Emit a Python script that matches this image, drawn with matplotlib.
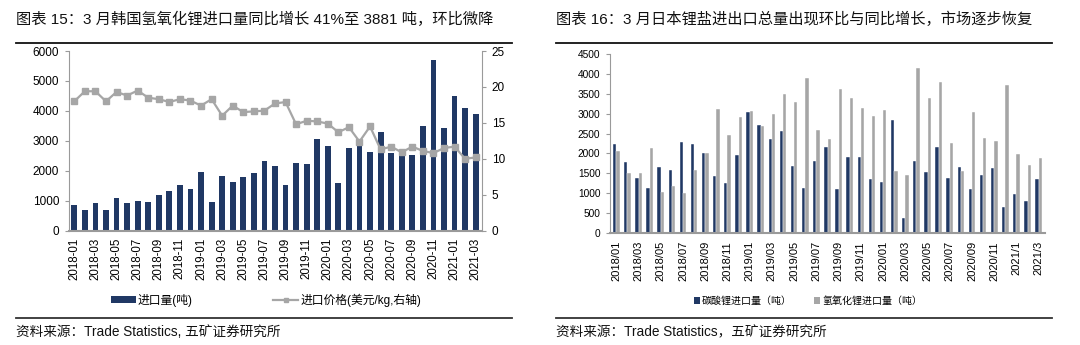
import matplotlib
matplotlib.use("Agg")
import matplotlib.pyplot as plt
from matplotlib.patches import Patch
from matplotlib.lines import Line2D

plt.rcParams['font.family'] = ['Liberation Sans', 'Noto Sans CJK SC']
plt.rcParams['axes.unicode_minus'] = False

# ---- data: Korea lithium hydroxide imports ----
kr_months = [f"{y}-{m:02d}" for y in (2018, 2019, 2020) for m in range(1, 13)] + \
            ["2021-01", "2021-02", "2021-03"]
kr_volume = [850, 680, 910, 680, 1080, 910, 1000, 960, 1190, 1340,
             1520, 1400, 1970, 960, 1820, 1620, 1790, 1920, 2320, 2150,
             1525, 2270, 2240, 3050, 2830, 1580, 2770, 2870, 2640, 3300,
             2595, 2540, 2520, 3500, 5710, 3440, 4510, 4100, 3881]
kr_price = [18.0, 19.4, 19.4, 18.0, 19.3, 18.8, 19.5, 18.5, 18.3, 17.9,
            18.3, 18.1, 17.4, 18.3, 16.0, 17.4, 16.5, 16.6, 16.7, 17.7,
            17.9, 14.8, 15.3, 15.2, 14.9, 13.7, 14.4, 12.4, 14.5, 11.3,
            11.7, 10.9, 11.7, 11.1, 10.8, 11.5, 11.7, 10.0, 10.2]

# ---- data: Japan lithium salt imports ----
jp_months = [f"{y}/{m:02d}" for y in (2018, 2019, 2020) for m in range(1, 13)] + \
            ["2021/1", "2021/2", "2021/3"]
jp_carbonate = [2230, 1775, 1390, 1130, 1650, 1575, 2295, 2230, 2010, 1430,
                1245, 1950, 3035, 2715, 2365, 2575, 1680, 1130, 1810, 2160,
                1110, 1920, 1900, 1355, 1280, 2835, 380, 1800, 1520, 2160,
                1370, 1655, 1100, 1465, 1630, 650, 985, 810, 1355]
jp_hydroxide = [2060, 1515, 1500, 2145, 1025, 1185, 995, 1590, 2000, 3130,
                2465, 2920, 3080, 2690, 2995, 3500, 3295, 3905, 2590, 2365,
                3615, 3405, 3135, 2950, 3085, 1550, 1445, 4145, 3400, 3800,
                2255, 1565, 3045, 2380, 2315, 3725, 1985, 1705, 1875]

NAVY = "#203864"
GRAY = "#A6A6A6"
SPINE = "#9A9A9A"

W, H = 1080, 345
fig = plt.figure(figsize=(W / 100, H / 100), dpi=100)


def px_axes(x0, y0, x1, y1):
    return fig.add_axes([x0 / W, 1 - y1 / H, (x1 - x0) / W, (y1 - y0) / H])


def hline(x0, x1, y, lw, color):
    fig.add_artist(Line2D([x0 / W, x1 / W], [1 - y / H, 1 - y / H],
                          transform=fig.transFigure, color=color, lw=lw))


# ================= left panel =================
fig.text(16 / W, 1 - 19 / H,
         "图表 15：3 月韩国氢氧化锂进口量同比增长 41%至 3881 吨，环比微降",
         fontsize=11, va="center", ha="left", color="#111111")
hline(16, 512, 43, 1.3, "#111111")

ax1 = px_axes(69, 51, 482, 230.7)
x1 = list(range(len(kr_months)))
ax1.bar(x1, kr_volume, width=0.55, color=NAVY, zorder=2)
ax1.set_ylim(0, 6000)
ax1.set_yticks(range(0, 6001, 1000))
ax1.set_xlim(-0.5, 38.6)
ax1.set_xticks(x1[::2])
ax1.set_xticklabels(kr_months[::2], rotation=90, fontsize=8.3)
ax1.tick_params(axis="x", length=0, pad=5)
ax1.tick_params(axis="y", length=3, color=SPINE, labelsize=8.5, pad=4)
for s in ("top", "right"):
    ax1.spines[s].set_visible(False)
ax1.spines["left"].set_color(SPINE)
ax1.spines["left"].set_linewidth(0.8)
ax1.spines["bottom"].set_color(SPINE)
ax1.spines["bottom"].set_linewidth(1.5)

ax1r = ax1.twinx()
ax1r.plot(x1, kr_price, color=GRAY, lw=1.6, marker="s", markersize=4,
          markerfacecolor=GRAY, markeredgecolor=GRAY, zorder=3)
ax1r.set_ylim(0, 25)
ax1r.set_yticks(range(0, 26, 5))
ax1r.tick_params(axis="y", length=3, color=SPINE, labelsize=8.5, pad=4)
for s in ("top", "left", "bottom"):
    ax1r.spines[s].set_visible(False)
ax1r.spines["right"].set_color(SPINE)
ax1r.spines["right"].set_linewidth(0.8)

h1 = [Patch(facecolor=NAVY, edgecolor="none"),
      Line2D([0], [0], color=GRAY, lw=1.6, marker="s", markersize=3)]
fig.legend(h1, ["进口量(吨)", "进口价格(美元/kg,右轴)"], ncol=2, frameon=False,
           loc="center", bbox_to_anchor=(266 / W, 1 - 300 / H), fontsize=8.5,
           handlelength=2.1, handleheight=0.6, handletextpad=0.2,
           columnspacing=6.8)

hline(16, 512, 318, 1.3, "#333333")
fig.text(16 / W, 1 - 332 / H, "资料来源：Trade Statistics, 五矿证券研究所",
         fontsize=9.8, va="center", ha="left", color="#111111")

# ================= right panel =================
fig.text(556 / W, 1 - 19 / H,
         "图表 16：3 月日本锂盐进出口总量出现环比与同比增长，市场逐步恢复",
         fontsize=11, va="center", ha="left", color="#111111")
hline(556, 1052, 43, 1.3, "#111111")

ax2 = px_axes(610, 54.3, 1045, 232.7)
x2 = list(range(len(jp_months)))
bw = 0.3
ax2.bar([i - bw / 2 for i in x2], jp_carbonate, width=bw, color=NAVY,
        edgecolor="white", linewidth=0.3, zorder=2)
ax2.bar([i + bw / 2 for i in x2], jp_hydroxide, width=bw, color=GRAY,
        edgecolor="white", linewidth=0.3, zorder=2)
ax2.set_ylim(0, 4500)
ax2.set_yticks(range(0, 4501, 500))
ax2.set_xlim(-0.57, 38.57)
ax2.set_xticks(x2[::2])
ax2.set_xticklabels(jp_months[::2], rotation=90, fontsize=8)
ax2.tick_params(axis="x", length=0, pad=6)
ax2.tick_params(axis="y", length=3, color=SPINE, labelsize=7.3, pad=4)
for s in ("top", "right"):
    ax2.spines[s].set_visible(False)
ax2.spines["left"].set_color(SPINE)
ax2.spines["left"].set_linewidth(0.8)
ax2.spines["bottom"].set_color(SPINE)
ax2.spines["bottom"].set_linewidth(1.5)

h2 = [Patch(facecolor=NAVY, edgecolor="none"),
      Patch(facecolor=GRAY, edgecolor="none")]
fig.legend(h2, ["碳酸锂进口量（吨）", "氢氧化锂进口量（吨）"], ncol=2,
           frameon=False, loc="center", bbox_to_anchor=(808 / W, 1 - 301 / H),
           fontsize=7.2, handlelength=0.6, handleheight=0.6,
           handletextpad=0.2, columnspacing=2.2)

hline(556, 1052, 318, 1.3, "#333333")
fig.text(556 / W, 1 - 332 / H, "资料来源：Trade Statistics，五矿证券研究所",
         fontsize=9.8, va="center", ha="left", color="#111111")

fig.savefig("out.png", dpi=100, facecolor="white")
